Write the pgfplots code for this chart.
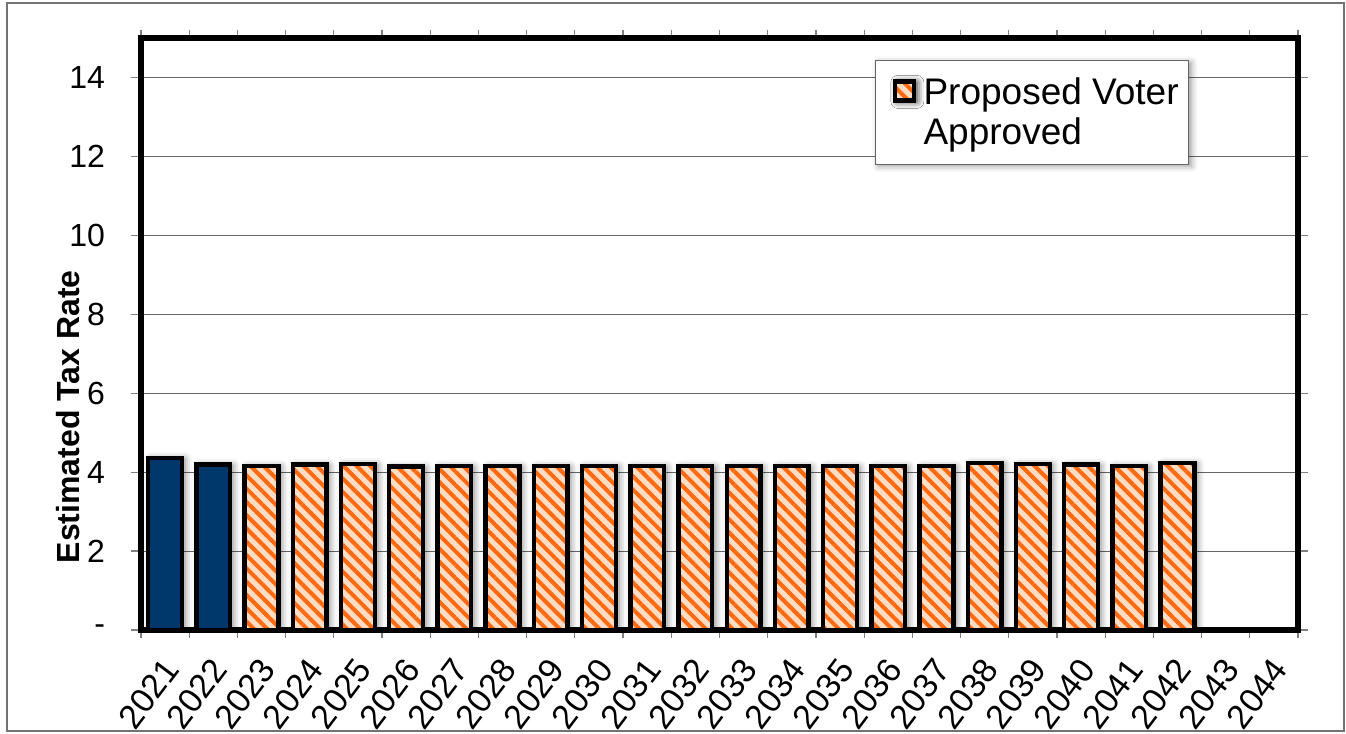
\documentclass[border=0pt]{standalone}
\usepackage{fontspec}
\setmainfont{Liberation Sans}
\usepackage{pgfplots}
\pgfplotsset{compat=1.18}
\usetikzlibrary{patterns.meta,shadows.blur}
\definecolor{navy}{HTML}{00386B}
\definecolor{peach}{HTML}{FFDCC4}
\definecolor{stripe}{HTML}{FF6A10}
\begin{document}
\begin{tikzpicture}[x=1pt,y=1pt]
\useasboundingbox (-70.5,-52) rectangle (602.5,315);
\draw[black!55, line width=0.6pt] (-67,-50.5) rectangle (601.5,313.5);
\begin{axis}[
  at={(0,0)}, anchor=south west,
  scale only axis, width=578.5pt, height=296pt,
  xmin=-0.5, xmax=23.5, ymin=0, ymax=15,
  axis line style={line width=2.6pt, line cap=rect},
  xtick={0,...,23},
  xticklabels={2021,2022,2023,2024,2025,2026,2027,2028,2029,2030,2031,2032,2033,2034,2035,2036,2037,2038,2039,2040,2041,2042,2043,2044},
  major x tick style={draw=none},
  minor xtick={-0.5,0.5,...,23.5},
  tick align=outside,
  major tick length=5pt, minor tick length=4pt,
  tick style={black!50, line width=0.6pt},
  ytick={0,2,...,14},
  yticklabels={-,2,4,6,8,10,12,14},
  ymajorgrids, grid style={black!60, line width=0.5pt},
  /pgf/number format/assume math mode=true,
  yticklabel style={font=\fontsize{16}{16}\selectfont, xshift=-9.5pt},
  xticklabel style={xshift=-2pt, yshift=-6.5pt, font=\fontsize{17}{17}\selectfont, rotate=53, anchor=north east, inner sep=1pt},
  ylabel={Estimated Tax Rate},
  ylabel style={at={(axis description cs:-0.063,0.36)}, anchor=center, font=\bfseries\fontsize{16}{16}\selectfont},
  ybar, bar width=0.7, bar shift=0pt,
  legend style={at={(0.634,0.963)}, anchor=north west, draw=black!60, line width=0.6pt,
    font=\fontsize{18.5}{21}\selectfont, inner xsep=3pt, inner ysep=6.5pt,
    blur shadow={shadow xshift=1.5pt, shadow yshift=-1pt, shadow blur radius=3pt, shadow opacity=40}},
  legend cell align=left,
  legend image code/.code={\path (-5pt,6pt); \draw[#1, line width=1.5pt] (0.75pt,6pt) rectangle (10.25pt,15.5pt); \path (12pt,6pt);},
]
\addplot[draw=black, line width=2.2pt, fill=navy,
  blur shadow={shadow xshift=1.5pt, shadow yshift=-0.5pt, shadow blur radius=3.5pt, shadow opacity=50},
  forget plot]
  coordinates {(0,4.36) (1,4.19)};
\addplot[draw=black, line width=2.2pt,
  blur shadow={shadow xshift=1.5pt, shadow yshift=-0.5pt, shadow blur radius=3.5pt, shadow opacity=50},
  preaction={fill=peach},
  preaction={pattern={Lines[angle=-45,distance=4.7pt,line width=2pt]}, pattern color=stripe}]
  coordinates {(2,4.16) (3,4.19) (4,4.21) (5,4.14) (6,4.15) (7,4.15) (8,4.15) (9,4.16) (10,4.15)
    (11,4.15) (12,4.15) (13,4.15) (14,4.15) (15,4.15) (16,4.15) (17,4.23) (18,4.20) (19,4.19)
    (20,4.16) (21,4.23)};
\addlegendentry[align=left]{Proposed Voter\\[-1pt]Approved}
\end{axis}
\end{tikzpicture}
\end{document}
